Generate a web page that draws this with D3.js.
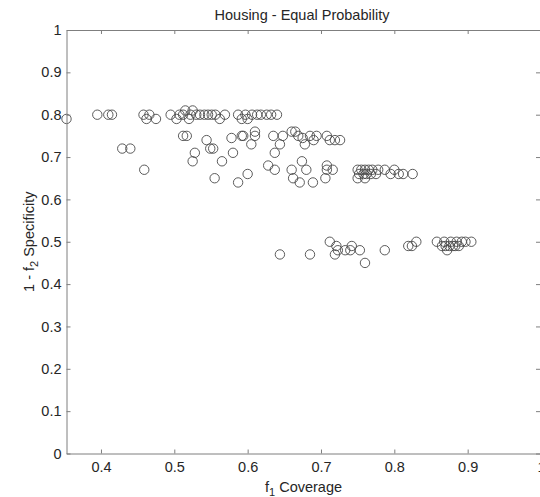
<!DOCTYPE html>
<html>
<head>
<meta charset="utf-8">
<script src="https://cdn.jsdelivr.net/npm/d3@7/dist/d3.min.js"></script>
<style>
  html, body { margin: 0; padding: 0; background: #fff; }
  svg { display: block; }
  text { font-family: "Liberation Sans", Arial, Helvetica, sans-serif; fill: #262626; }
</style>
</head>
<body>
<div id="chart"></div>
<script>
const title = "Housing - Equal Probability";
const xTicks = [0.4, 0.5, 0.6, 0.7, 0.8, 0.9, 1];
const yTicks = [0, 0.1, 0.2, 0.3, 0.4, 0.5, 0.6, 0.7, 0.8, 0.9, 1];
const xTickLabels = ["0.4", "0.5", "0.6", "0.7", "0.8", "0.9", "1"];
const yTickLabels = ["0", "0.1", "0.2", "0.3", "0.4", "0.5", "0.6", "0.7", "0.8", "0.9", "1"];

// f1 Coverage values
const coverage = [
  0.353, 0.395, 0.410, 0.415, 0.458, 0.462, 0.466, 0.475, 0.495, 0.503,
  0.507, 0.512, 0.515, 0.520, 0.522, 0.525, 0.530, 0.535, 0.541, 0.546,
  0.551, 0.556, 0.562, 0.569, 0.587, 0.592, 0.597, 0.600, 0.606, 0.613,
  0.618, 0.626, 0.632, 0.640,
  0.429, 0.440, 0.459, 0.512, 0.517, 0.544, 0.549, 0.553, 0.528, 0.525,
  0.565, 0.555, 0.578, 0.580, 0.592, 0.594, 0.605, 0.610, 0.610, 0.587,
  0.600, 0.635, 0.637, 0.644, 0.648, 0.628, 0.637, 0.660, 0.665, 0.669,
  0.675, 0.678, 0.685, 0.690, 0.694, 0.708, 0.712, 0.719, 0.726, 0.660,
  0.662, 0.674, 0.680, 0.671, 0.689, 0.706, 0.708, 0.716, 0.708,
  0.750, 0.752, 0.755, 0.758, 0.760, 0.762, 0.765, 0.768, 0.770, 0.775,
  0.778, 0.787, 0.795, 0.800, 0.806, 0.812, 0.825, 0.750, 0.760,
  0.644, 0.685, 0.712, 0.721, 0.719, 0.723, 0.733, 0.742, 0.740, 0.753,
  0.760, 0.787, 0.819, 0.824, 0.830, 0.858, 0.865, 0.868, 0.870, 0.872,
  0.875, 0.877, 0.880, 0.883, 0.885, 0.888, 0.892, 0.897, 0.905
];
// 1 - f2 Specificity values
const specificity = [
  0.79, 0.80, 0.80, 0.80, 0.80, 0.79, 0.80, 0.79, 0.80, 0.79,
  0.80, 0.80, 0.81, 0.79, 0.80, 0.81, 0.80, 0.80, 0.80, 0.80,
  0.80, 0.80, 0.79, 0.80, 0.80, 0.79, 0.80, 0.79, 0.80, 0.80,
  0.80, 0.80, 0.80, 0.80,
  0.72, 0.72, 0.67, 0.75, 0.75, 0.74, 0.72, 0.72, 0.71, 0.69,
  0.69, 0.65, 0.745, 0.71, 0.75, 0.75, 0.73, 0.76, 0.75, 0.64,
  0.66, 0.75, 0.71, 0.73, 0.75, 0.68, 0.67, 0.76, 0.76, 0.75,
  0.745, 0.73, 0.75, 0.74, 0.75, 0.75, 0.74, 0.74, 0.74, 0.67,
  0.65, 0.69, 0.67, 0.64, 0.64, 0.65, 0.67, 0.67, 0.68,
  0.67, 0.66, 0.67, 0.66, 0.67, 0.66, 0.67, 0.66, 0.67, 0.66,
  0.67, 0.67, 0.66, 0.67, 0.66, 0.66, 0.66, 0.65, 0.65,
  0.47, 0.47, 0.50, 0.49, 0.47, 0.48, 0.48, 0.49, 0.48, 0.48,
  0.45, 0.48, 0.49, 0.49, 0.50, 0.50, 0.49, 0.50, 0.49, 0.48,
  0.49, 0.50, 0.49, 0.49, 0.50, 0.49, 0.50, 0.50, 0.50
];

const W = 540, H = 497;
const svg = d3.select("#chart").append("svg").attr("width", W).attr("height", H);

const x = d3.scaleLinear().domain([0.353, 1]).range([66.5, 541]);
const y = d3.scaleLinear().domain([0, 1]).range([453.5, 30]);

const axisColor = "#7f7f7f";
const fs = 14.5;

// markers
const pts = coverage.map((c, i) => ({ x: c, y: specificity[i] }));
svg.append("g").selectAll("circle").data(pts).join("circle")
  .attr("cx", d => x(d.x)).attr("cy", d => y(d.y)).attr("r", 4.7)
  .attr("fill", "none").attr("stroke", "#4a4a4a").attr("stroke-width", 0.9);

function styleAxis(g) {
  g.select(".domain").attr("stroke", axisColor).attr("stroke-width", 1);
  g.selectAll(".tick line").attr("stroke", axisColor);
  g.selectAll(".tick text").attr("fill", "#262626")
    .style("font-family", '"Liberation Sans", Arial, sans-serif').style("font-size", fs + "px");
}

// bottom axis
const gx = svg.append("g").attr("transform", `translate(0,${y(0)})`)
  .call(d3.axisBottom(x).tickValues(xTicks).tickFormat((d, i) => xTickLabels[i])
    .tickSizeInner(-4).tickSizeOuter(0).tickPadding(8));
styleAxis(gx);
// top axis
const gt = svg.append("g").attr("transform", `translate(0,${y(1)})`)
  .call(d3.axisTop(x).tickValues(xTicks).tickFormat("").tickSizeInner(-4).tickSizeOuter(0));
styleAxis(gt);
// left axis
const gy = svg.append("g").attr("transform", `translate(${x(0.353)},0)`)
  .call(d3.axisLeft(y).tickValues(yTicks).tickFormat((d, i) => yTickLabels[i])
    .tickSizeInner(-4).tickSizeOuter(0).tickPadding(5));
styleAxis(gy);
// right axis
const gr = svg.append("g").attr("transform", `translate(${x(1) - 1},0)`)
  .call(d3.axisRight(y).tickValues(yTicks).tickFormat("").tickSizeInner(-4).tickSizeOuter(0));
styleAxis(gr);

// title
svg.append("text").attr("x", 302).attr("y", 20).attr("text-anchor", "middle")
  .style("font-size", "14.5px").text(title);

// x label
const xl = svg.append("text").attr("x", 303.5).attr("y", 492).attr("text-anchor", "middle")
  .style("font-size", "14.5px");
xl.append("tspan").text("f");
xl.append("tspan").attr("dy", 4).style("font-size", "11px").text("1");
xl.append("tspan").attr("dy", -4).text(" Coverage");

// y label
const yl = svg.append("text").attr("transform", `translate(34,${(y(0) + y(1)) / 2}) rotate(-90)`)
  .attr("text-anchor", "middle").style("font-size", "14.5px");
yl.append("tspan").text("1 - f");
yl.append("tspan").attr("dy", 4).style("font-size", "11px").text("2");
yl.append("tspan").attr("dy", -4).text(" Specificity");
</script>
</body>
</html>
